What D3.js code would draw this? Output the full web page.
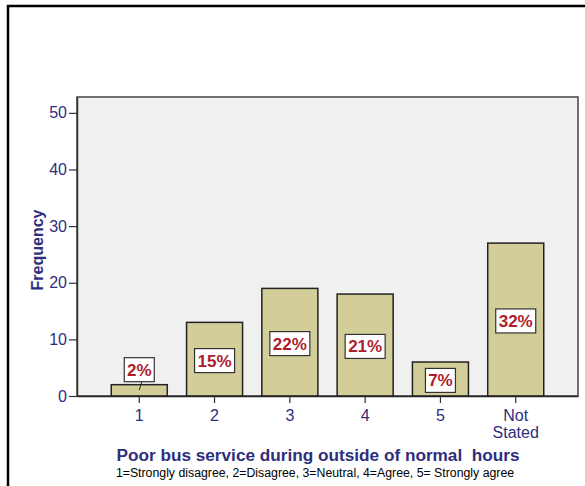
<!DOCTYPE html>
<html>
<head>
<meta charset="utf-8">
<script src="https://cdn.jsdelivr.net/npm/d3@7"></script>
<style>
  body { margin: 0; background: #fff; }
  text { font-family: "Liberation Sans", Arial, sans-serif; }
</style>
</head>
<body>
<script>
// data
var categories = ["1", "2", "3", "4", "5", "Not Stated"];
var frequencies = [2, 13, 19, 18, 6, 27];
var percentLabels = ["2%", "15%", "22%", "21%", "7%", "32%"];
var yTicks = [0, 10, 20, 30, 40, 50];

var W = 585, H = 486;
var plot = {left: 77, right: 578, top: 97, bottom: 396};
var navy = "#2e2e7c";

var svg = d3.select("body").append("svg")
	.attr("width", W)
	.attr("height", H);

// outer frame (only left and top edges visible)
svg.append("path")
	.attr("d", "M8," + H + "V6H" + W)
	.attr("fill", "none")
	.attr("stroke", "#000")
	.attr("stroke-width", 2.5);

var xScale = d3.scaleBand()
	.domain(categories)
	.range([plot.left, plot.right])
	.paddingInner(0.256)
	.paddingOuter(0.455);

var yScale = d3.scaleLinear()
	.domain([0, 52.8])
	.range([plot.bottom, plot.top]);

// plot background
svg.append("rect")
	.attr("x", plot.left)
	.attr("y", plot.top)
	.attr("width", plot.right - plot.left)
	.attr("height", plot.bottom - plot.top)
	.attr("fill", "#f0f0f0")
	.attr("stroke", "#444")
	.attr("stroke-width", 1.5);

var data = categories.map(function(c, i){
	return {cat: c, value: frequencies[i], label: percentLabels[i]};
});

// bars
svg.selectAll(".bar")
	.data(data)
	.enter()
	.append("rect")
	.attr("class", "bar")
	.attr("x", function(d){ return xScale(d.cat); })
	.attr("y", function(d){ return yScale(d.value); })
	.attr("width", xScale.bandwidth())
	.attr("height", function(d){ return yScale(0) - yScale(d.value); })
	.attr("fill", "#d3ce99")
	.attr("stroke", "#222")
	.attr("stroke-width", 1.5);

// axes
var yAxis = d3.axisLeft(yScale).tickValues(yTicks).tickSize(8).tickSizeOuter(0).tickPadding(2);
var gy = svg.append("g")
	.attr("transform", "translate(" + plot.left + ",0)")
	.call(yAxis);
gy.select(".domain").attr("stroke", "#333").attr("stroke-width", 1.5);
gy.selectAll(".tick line").attr("stroke", "#333").attr("stroke-width", 1.2);
gy.selectAll(".tick text")
	.attr("fill", navy)
	.style("font-size", "16px");

var xAxis = d3.axisBottom(xScale).tickSize(7).tickSizeOuter(0).tickPadding(5);
var gx = svg.append("g")
	.attr("transform", "translate(0," + plot.bottom + ")")
	.call(xAxis);
gx.select(".domain").attr("stroke", "#222").attr("stroke-width", 1.5);
gx.selectAll(".tick line").attr("stroke", "#333").attr("stroke-width", 1.2);
gx.selectAll(".tick text").remove();
gx.selectAll(".tick").each(function(d){
	var words = d.split(" ");
	var t = d3.select(this).append("text")
		.attr("fill", navy)
		.attr("text-anchor", "middle")
		.style("font-size", "16px");
	words.forEach(function(w, i){
		t.append("tspan").attr("x", 0).attr("y", 25 + i * 17).text(w);
	});
});

// percentage labels
var labels = svg.selectAll(".lbl")
	.data(data)
	.enter()
	.append("g")
	.attr("class", "lbl");

labels.each(function(d){
	var g = d3.select(this);
	var cx = xScale(d.cat) + xScale.bandwidth() / 2;
	var mid = (yScale(d.value) + yScale(0)) / 2 + 1.4;
	var bw = d.label.length > 2 ? 40 : 30, bh = 24;
	var cy = mid;
	if (yScale(0) - yScale(d.value) < bh + 4) {
		// too small: lift above bar with leader line
		cy = yScale(d.value) - 15;
		g.append("line")
			.attr("x1", cx + 2.5).attr("y1", cy + bh / 2)
			.attr("x2", cx).attr("y2", yScale(0) - 6)
			.attr("stroke", "#222")
			.attr("stroke-width", 1);
	}
	g.append("rect")
		.attr("x", cx - bw / 2)
		.attr("y", cy - bh / 2)
		.attr("width", bw)
		.attr("height", bh)
		.attr("fill", "#fff")
		.attr("stroke", "#333")
		.attr("stroke-width", 1.2);
	g.append("text")
		.attr("x", cx)
		.attr("y", cy + 6)
		.attr("text-anchor", "middle")
		.attr("fill", "#ae1c2b")
		.style("font-size", "17px")
		.style("font-weight", "bold")
		.text(d.label);
});

// axis titles
svg.append("text")
	.attr("transform", "translate(43,250) rotate(-90)")
	.attr("text-anchor", "middle")
	.attr("fill", navy)
	.style("font-size", "16px")
	.style("font-weight", "bold")
	.text("Frequency");

svg.append("text")
	.attr("x", 318)
	.attr("y", 461)
	.attr("text-anchor", "middle")
	.attr("fill", navy)
	.style("font-size", "17.2px")
	.style("font-weight", "bold")
	.style("white-space", "pre")
	.text("Poor bus service during outside of normal  hours");

svg.append("text")
	.attr("x", 315)
	.attr("y", 477)
	.attr("text-anchor", "middle")
	.attr("fill", "#000")
	.style("font-size", "12.3px")
	.text("1=Strongly disagree, 2=Disagree, 3=Neutral, 4=Agree, 5= Strongly agree");
</script>
</body>
</html>
